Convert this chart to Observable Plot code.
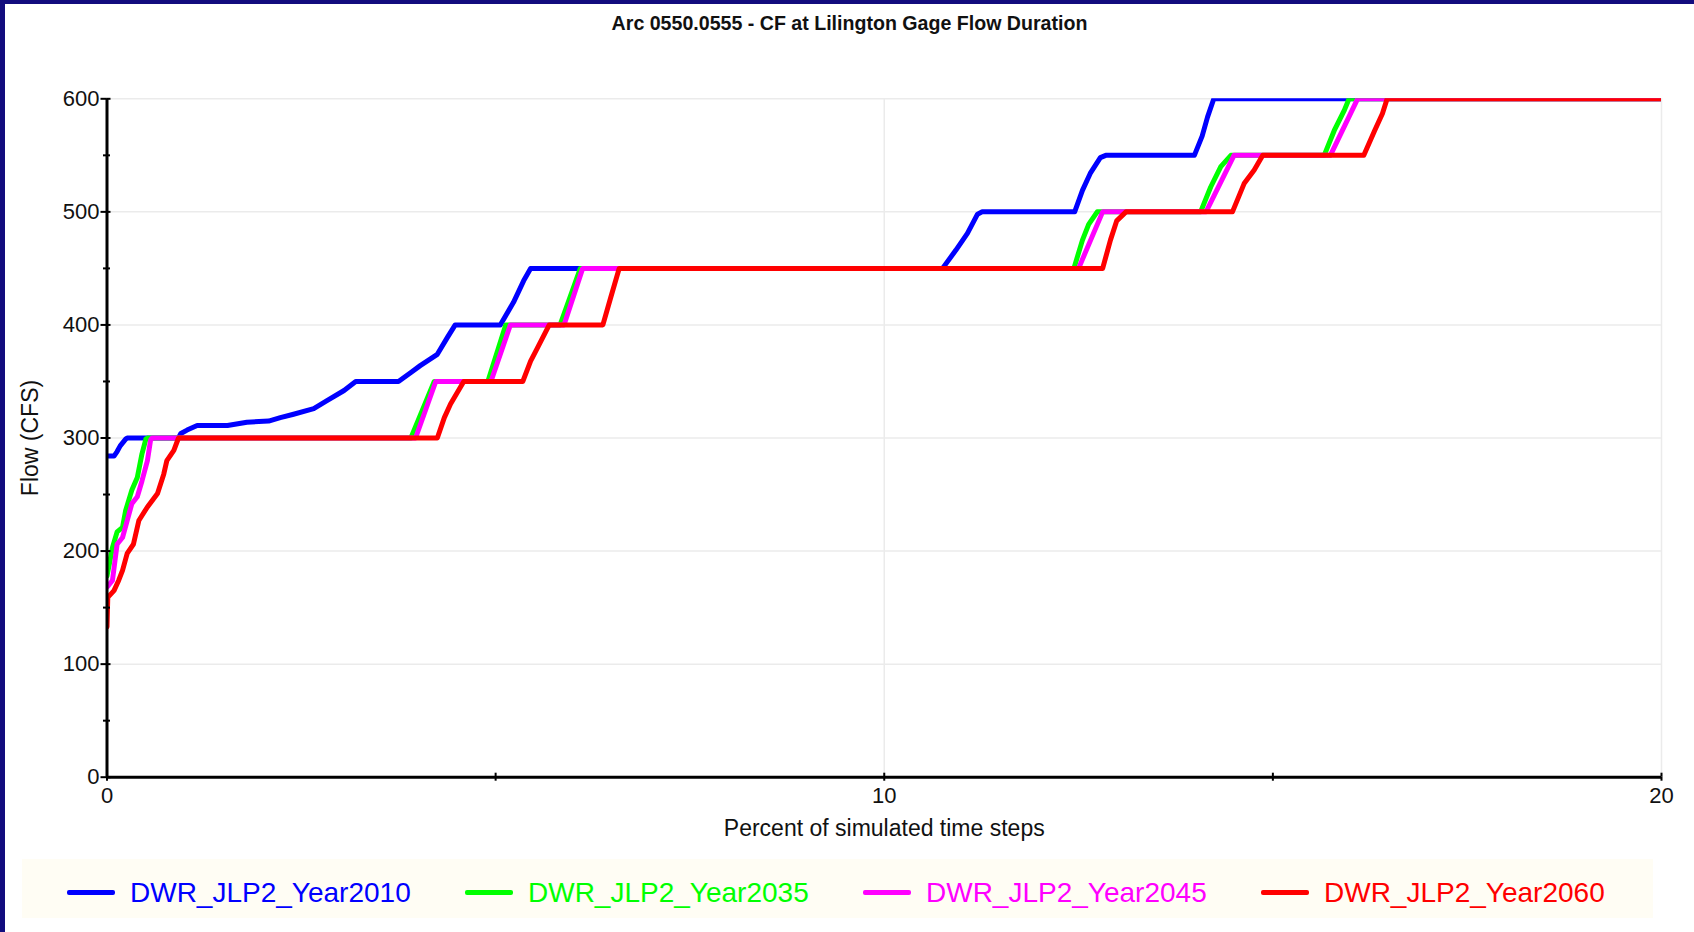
<!DOCTYPE html>
<html>
<head>
<meta charset="utf-8">
<script src="https://cdn.jsdelivr.net/npm/d3@7"></script>
<script src="https://cdn.jsdelivr.net/npm/@observablehq/plot@0.6"></script>
<style>
  html, body { margin: 0; padding: 0; background: #fff; }
  body { width: 1694px; height: 932px; overflow: hidden; position: relative;
         font-family: "Liberation Sans", Arial, sans-serif; }
  #edge { position: absolute; left: 0; top: 0; width: 1694px; height: 932px; box-sizing: border-box;
          border-top: 4px solid #120c7e; border-left: 5px solid #120c7e; pointer-events: none; }
  #title { position: absolute; left: 5px; top: 12px; width: 1689px; text-align: center;
           font-weight: bold; font-size: 19.6px; line-height: 22px; color: #111; }
  #chart { position: absolute; left: 5px; top: 50px; }
  #legend { position: absolute; left: 22px; top: 859px; width: 1631px; height: 59px;
            background: #fffdf4; display: flex; align-items: center; padding-left: 45px; padding-top: 8px;
            box-sizing: border-box; }
  .item { display: flex; align-items: center; width: 398px; flex: none; }
  .swatch { width: 48px; height: 5px; border-radius: 2px; margin-right: 15px; }
  .name { font-size: 28px; line-height: 30px; }
</style>
</head>
<body>
<div id="title"></div>
<div id="chart"></div>
<div id="legend"></div>
<div id="edge"></div>
<script>
// Flow duration curves, Cape Fear at Lillington gage, four planning horizons
const chartTitle = "Arc 0550.0555 - CF at Lilington Gage Flow Duration";
const xLabel = "Percent of simulated time steps";
const yLabel = "Flow (CFS)";

const seriesNames = ["DWR_JLP2_Year2010", "DWR_JLP2_Year2035", "DWR_JLP2_Year2045", "DWR_JLP2_Year2060"];
const seriesColors = ["#0000ff", "#00ff00", "#ff00ff", "#ff0000"];

// percent of time steps (x) and flow in cfs (y) for each run
const pct2010  = [0, 0.09, 0.13, 0.17, 0.24, 0.26, 0.92, 0.95, 1.03, 1.16, 1.55, 1.80, 2.08, 2.23, 2.40, 2.66, 2.83, 3.05, 3.20, 3.75, 3.91, 4.03, 4.25, 4.38, 4.48, 5.06, 5.23, 5.36, 5.45, 10.75, 10.92, 11.07, 11.20, 11.26, 12.45, 12.55, 12.65, 12.78, 12.85, 13.99, 14.09, 14.16, 14.24, 20];
const flow2010 = [284, 284, 288, 293, 299, 300, 300, 304, 307, 311, 311, 314, 315, 318, 321, 326, 333, 342, 350, 350, 358, 364, 374, 389, 400, 400, 420, 439, 450, 450, 466, 481, 498, 500, 500, 519, 534, 548, 550, 550, 567, 584, 600, 600];

const pct2035  = [0, 0.07, 0.13, 0.20, 0.24, 0.32, 0.39, 0.45, 0.50, 0.52, 3.91, 4.21, 4.90, 5.13, 5.83, 6.09, 12.44, 12.55, 12.63, 12.74, 14.07, 14.20, 14.33, 14.46, 15.66, 15.79, 15.92, 15.98, 20];
const flow2035 = [178, 203, 217, 221, 236, 254, 265, 286, 299, 300, 300, 350, 350, 400, 400, 450, 450, 475, 489, 500, 500, 522, 540, 550, 550, 572, 590, 600, 600];

const pct2045  = [0, 0.07, 0.13, 0.20, 0.26, 0.32, 0.39, 0.45, 0.52, 0.56, 0.58, 3.97, 4.23, 4.94, 5.19, 5.88, 6.12, 12.50, 12.81, 14.14, 14.50, 15.74, 16.09, 20];
const flow2045 = [168, 174, 206, 212, 227, 242, 248, 262, 280, 298, 300, 300, 350, 350, 400, 400, 450, 450, 500, 500, 550, 550, 600, 600];

const pct2060  = [0, 0.01, 0.09, 0.15, 0.20, 0.26, 0.34, 0.41, 0.52, 0.65, 0.73, 0.77, 0.86, 0.92, 4.25, 4.34, 4.42, 4.59, 5.35, 5.45, 5.54, 5.69, 6.38, 6.48, 6.59, 12.81, 12.91, 12.99, 13.11, 14.48, 14.63, 14.76, 14.87, 16.17, 16.31, 16.41, 16.47, 20];
const flow2060 = [133, 159, 165, 174, 183, 198, 206, 227, 239, 251, 268, 280, 289, 300, 300, 318, 330, 350, 350, 368, 380, 400, 400, 424, 450, 450, 475, 492, 500, 500, 525, 537, 550, 550, 572, 587, 600, 600];

const yTicks = [0, 100, 200, 300, 400, 500, 600];
const yMinorTicks = [50, 150, 250, 350, 450, 550];
const xTickLabels = [0, 10, 20];
const xTicks = [0, 5, 10, 15, 20];
const yGrid = [100, 200, 300, 400, 500, 600];
const xGrid = [10, 20];

// long-format table for the line mark
const runs = [[pct2010, flow2010], [pct2035, flow2035], [pct2045, flow2045], [pct2060, flow2060]];
const rows = runs.flatMap(([xs, ys], i) => xs.map((x, j) => ({series: seriesNames[i], pct: x, flow: ys[j]})));

document.getElementById("title").textContent = chartTitle;

const chart = Plot.plot({
  width: 1689,
  height: 800,
  marginLeft: 101.5,
  marginRight: 33,
  marginTop: 48.3,
  marginBottom: 73.3,
  style: {fontFamily: "'Liberation Sans', Arial, sans-serif", fontSize: "22px", color: "#111", background: "transparent", overflow: "visible"},
  x: {domain: [0, 20]},
  y: {domain: [0, 600]},
  color: {domain: seriesNames, range: seriesColors},
  marks: [
    Plot.gridY(yGrid, {stroke: "#ebebeb", strokeOpacity: 1, strokeWidth: 1.5}),
    Plot.gridX(xGrid, {stroke: "#ebebeb", strokeOpacity: 1, strokeWidth: 1.5}),
    Plot.line(rows, {x: "pct", y: "flow", z: "series", stroke: "series", strokeWidth: 5, clip: true}),
    Plot.ruleX([0], {stroke: "#000", strokeWidth: 3}),
    Plot.ruleY([0], {stroke: "#000", strokeWidth: 3}),
    Plot.axisY({ticks: yTicks, tickSize: 6, tickPadding: 1.5, label: null, stroke: "#000", strokeWidth: 2, fontSize: 22}),
    Plot.axisY({ticks: yTicks, tickSize: -4, tickFormat: () => "", label: null, stroke: "#000", strokeWidth: 2}),
    Plot.axisY({ticks: yMinorTicks, tickSize: 3.5, tickFormat: () => "", label: null, stroke: "#000", strokeWidth: 2}),
    Plot.axisY({ticks: yMinorTicks, tickSize: -3.5, tickFormat: () => "", label: null, stroke: "#000", strokeWidth: 2}),
    Plot.axisX({ticks: xTickLabels, tickSize: 0, tickPadding: 10, label: null, fontSize: 22}),
    Plot.axisX({ticks: xTicks, tickSize: 4, tickFormat: () => "", label: null, stroke: "#000", strokeWidth: 2}),
    Plot.axisX({ticks: xTicks, tickSize: -4, tickFormat: () => "", label: null, stroke: "#000", strokeWidth: 2}),
    Plot.text([yLabel], {text: d => d, frameAnchor: "left", textAnchor: "middle", rotate: -90, dx: -76.5, fontSize: 23, fill: "#111"}),
    Plot.text([xLabel], {text: d => d, frameAnchor: "bottom", textAnchor: "middle", lineAnchor: "middle", dy: 51, fontSize: 23, fill: "#111"})
  ]
});
document.getElementById("chart").appendChild(chart);

// legend row below the chart
const legend = document.getElementById("legend");
seriesNames.forEach((name, i) => {
  const item = document.createElement("div");
  item.className = "item";
  const sw = document.createElement("div");
  sw.className = "swatch";
  sw.style.background = seriesColors[i];
  const label = document.createElement("span");
  label.className = "name";
  label.style.color = seriesColors[i];
  label.textContent = name;
  item.append(sw, label);
  legend.appendChild(item);
});
</script>
</body>
</html>
